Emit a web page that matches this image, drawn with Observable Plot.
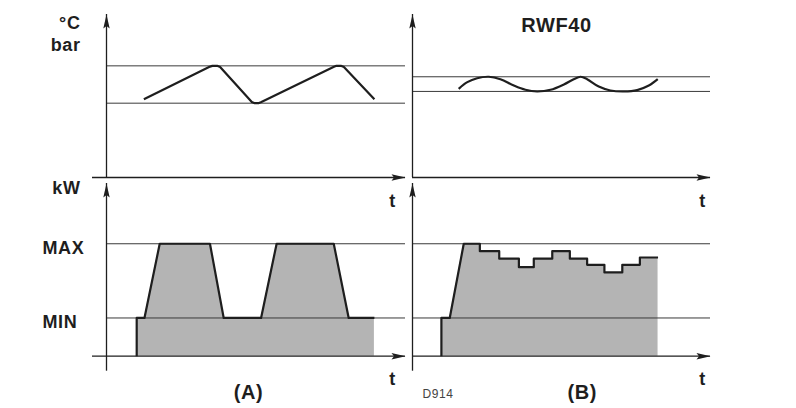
<!DOCTYPE html>
<html><head><meta charset="utf-8">
<script src="https://cdn.jsdelivr.net/npm/d3@7"></script>
<script src="https://cdn.jsdelivr.net/npm/@observablehq/plot@0.6"></script>
<style>
html,body{margin:0;padding:0;background:#fff;}
#chart{position:relative;width:796px;height:408px;overflow:hidden;background:#fff;}
#chart svg{position:absolute;}
#chart text{letter-spacing:0.6px;}
</style></head><body><div id="chart"></div>
<script>
// ---------- data (time in % of axis length, values in % of axis height) ----------
const tempLimitsA = [68.5, 45.6];          // upper / lower switching limits, two-position
const tempLimitsB = [61.8, 52.8];          // RWF40 modulating band
const tempTimeA = [12.5, 34.3, 35.4, 37.0, 38.0, 48.6, 49.6, 50.8, 51.8, 75.9, 76.9, 78.4, 79.4, 89.6];
const tempValA  = [48.0, 67.8, 68.5, 68.5, 67.8, 46.3, 45.6, 45.6, 46.3, 67.8, 68.5, 68.5, 67.8, 48.0];
const tempTimeB = [15.5, 18.4, 21.7, 25.6, 29.5, 34.0, 37.9, 41.8, 46.3, 50.8, 54.1, 56.4, 58.6, 62.5, 66.4, 70.9, 75.4, 79.3, 82.3];
const tempValB  = [54.4, 58.5, 60.9, 61.8, 60.3, 56.4, 53.8, 52.8, 53.8, 57.1, 60.3, 61.8, 60.3, 55.8, 53.4, 52.8, 53.6, 56.4, 60.3];
const powerLevels = [34, 100];
const powerLevelLabels = ["MIN", "MAX"];
const powerTimeA = [10.1, 10.1, 12.7, 17.8, 34.6, 39.2, 51.7, 56.9, 76.0, 81.0, 89.6];
const powerValA  = [0, 34, 34, 100, 100, 34, 34, 100, 100, 34, 34];
const powerTimeB = [9.7, 9.7, 12.5, 17.2, 22.6, 22.6, 29.1, 29.1, 35.7, 35.7, 40.7, 40.7, 46.9, 46.9, 52.8, 52.8, 58.6, 58.6, 64.4, 64.4, 70.4, 70.4, 76.3, 76.3, 82.4];
const powerValB  = [0, 34, 34, 100, 100, 93.4, 93.4, 86.7, 86.7, 79.2, 79.2, 86.7, 86.7, 93.4, 93.4, 86.7, 86.7, 81.3, 81.3, 74.5, 74.5, 81.3, 81.3, 87.8, 87.8];
const tempAxisTop = 100;
const powerAxisTop = 153.6;
const labels = {temp: ["°C", "bar"], power: "kW", time: "t", title: "RWF40", panelA: "(A)", panelB: "(B)", code: "D914"};

// ---------- helpers ----------
const ink = "#1e1e1e";
const fontFamily = "'Liberation Sans', Arial, Helvetica, sans-serif";
const zip = (xs, ys, kx, ky) => xs.map((v, i) => ({[kx]: v, [ky]: ys[i]}));
const arrowHead = {draw(ctx) { ctx.moveTo(0, 0); ctx.lineTo(3.2, 14); ctx.lineTo(0, 11.5); ctx.lineTo(-3.2, 14); ctx.closePath(); }};

function axisMarks(yTop, {extendLeft = 0, extendBottom = 0} = {}) {
  return [
    Plot.ruleX([0], {stroke: ink, strokeWidth: 1.3, insetBottom: -extendBottom}),
    Plot.ruleY([0], {stroke: ink, strokeWidth: 1.3, insetLeft: -extendLeft}),
    Plot.dot([yTop], {x: 0, y: d => d, symbol: arrowHead, fill: ink, stroke: "none"}),
    Plot.dot([100], {x: d => d, y: 0, symbol: arrowHead, rotate: 90, fill: ink, stroke: "none"})
  ];
}
const boldText = (txt, o) => Plot.text([txt], {fontSize: 18, fontWeight: "bold", fill: ink, lineAnchor: "bottom", ...o});

function panel(box, yDomain, marks, yAxis = null) {
  const svg = Plot.plot({
    width: box.width, height: box.height,
    marginLeft: box.marginLeft, marginRight: box.marginRight,
    marginTop: box.marginTop, marginBottom: box.marginBottom,
    x: {domain: [0, 100], axis: null},
    y: {domain: yDomain, ...(yAxis ? {} : {axis: null})},
    style: {background: "transparent", overflow: "visible", fontFamily, color: ink},
    marks: yAxis ? [...marks, yAxis] : marks
  });
  svg.style.left = box.left + "px";
  svg.style.top = box.top + "px";
  document.getElementById("chart").appendChild(svg);
}

const colL = {left: 0, width: 406, marginLeft: 106, marginRight: 1};
const colR = {left: 406, width: 390, marginLeft: 6, marginRight: 86};
const rowT = {top: 0, height: 212, marginTop: 14, marginBottom: 35};
const rowB = {top: 176, height: 232, marginTop: 7, marginBottom: 52.3};

const tA = zip(tempTimeA, tempValA, "t", "v");
const tB = zip(tempTimeB, tempValB, "t", "v");
const pA = zip(powerTimeA, powerValA, "t", "p");
const pB = zip(powerTimeB, powerValB, "t", "p");
const refLine = {stroke: "#3a3a3a", strokeWidth: 1};
const curve = {stroke: ink, strokeWidth: 2.2, strokeLinejoin: "round", strokeLinecap: "butt"};
const fillArea = {fill: "#b4b4b4"};

// top-left: two-position controller temperature
panel({...colL, ...rowT}, [0, tempAxisTop], [
  Plot.ruleY(tempLimitsA, refLine),
  ...axisMarks(tempAxisTop, {extendLeft: 14}),
  Plot.line(tA, {x: "t", y: "v", ...curve}),
  boldText(labels.temp[0], {frameAnchor: "top-left", textAnchor: "end", dx: -26, dy: 14}),
  boldText(labels.temp[1], {frameAnchor: "top-left", textAnchor: "end", dx: -26, dy: 36}),
  boldText(labels.time, {frameAnchor: "bottom-right", textAnchor: "middle", dx: -13, dy: 29})
]);

// top-right: RWF40 modulating temperature
panel({...colR, ...rowT}, [0, tempAxisTop], [
  Plot.ruleY(tempLimitsB, refLine),
  ...axisMarks(tempAxisTop),
  Plot.line(tB, {x: "t", y: "v", curve: "catmull-rom", ...curve}),
  boldText(labels.title, {frameAnchor: "top", textAnchor: "middle", dx: -5, dy: 17, fontSize: 20}),
  boldText(labels.time, {frameAnchor: "bottom-right", textAnchor: "middle", dx: -8, dy: 29})
]);

// bottom-left: two-position output
panel({...colL, ...rowB}, [0, powerAxisTop], [
  Plot.areaY(pA, {x: "t", y1: 0, y2: "p", ...fillArea}),
  Plot.ruleY(powerLevels, refLine),
  ...axisMarks(powerAxisTop, {extendLeft: 14, extendBottom: 15}),
  Plot.line(pA, {x: "t", y: "p", ...curve}),
  boldText(labels.power, {frameAnchor: "top-left", textAnchor: "end", dx: -26, dy: 10}),
  boldText(labels.time, {frameAnchor: "bottom-right", textAnchor: "middle", dx: -13, dy: 28.3}),
  boldText(labels.panelA, {frameAnchor: "bottom", textAnchor: "middle", dx: -7.5, dy: 42.3, fontSize: 20})
], Plot.axisY(powerLevels, {tickSize: 0, tickFormat: d => powerLevelLabels[powerLevels.indexOf(d)], textAnchor: "start", dx: -55, dy: 4, fontSize: 18, fontWeight: "bold", fill: ink, label: null}));

// bottom-right: RWF40 modulating output
panel({...colR, ...rowB}, [0, powerAxisTop], [
  Plot.areaY(pB, {x: "t", y1: 0, y2: "p", ...fillArea}),
  Plot.ruleY(powerLevels, refLine),
  ...axisMarks(powerAxisTop, {extendBottom: 15}),
  Plot.line(pB, {x: "t", y: "p", ...curve}),
  boldText(labels.time, {frameAnchor: "bottom-right", textAnchor: "middle", dx: -8, dy: 28.3}),
  boldText(labels.panelB, {frameAnchor: "bottom", textAnchor: "middle", dx: 20.7, dy: 42.3, fontSize: 20}),
  Plot.text([labels.code], {frameAnchor: "bottom-left", textAnchor: "start", lineAnchor: "bottom", dx: 10, dy: 41.6, fontSize: 12, fill: "#444"})
]);
</script></body></html>
